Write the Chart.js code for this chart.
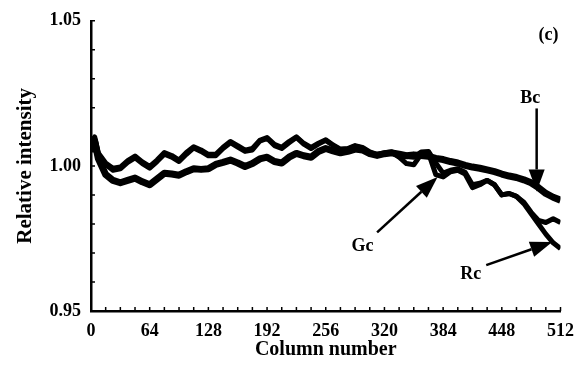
<!DOCTYPE html>
<html>
<head>
<meta charset="utf-8">
<script src="https://cdn.jsdelivr.net/npm/chart.js@4.4.1/dist/chart.umd.min.js"></script>
<style>
  html, body { margin: 0; padding: 0; background: #fff; }
  #wrap { width: 584px; height: 372px; }
</style>
</head>
<body>
<div id="wrap"><canvas id="myChart" width="584" height="372"></canvas></div>
<script>
const columns = [0, 4, 8, 16, 24, 32, 40, 48, 56, 64, 72, 80, 88, 96, 104, 112, 120, 128,
    136, 144, 152, 160, 168, 176, 184, 192, 200, 208, 216, 224, 232, 240, 248, 256,
    264, 272, 280, 288, 296, 304, 312, 320, 328, 336, 344, 352, 360, 368, 376, 384,
    392, 400, 408, 416, 424, 432, 440, 448, 456, 464, 472, 480, 488, 496, 504, 512];

const bcValues = [1.0048, 1.0085, 1.0025, 0.9970, 0.9950, 0.9942, 0.9950, 0.9958, 0.9945, 0.9935,
    0.9955, 0.9975, 0.9972, 0.9968, 0.9980, 0.9990, 0.9988, 0.9990, 1.0005, 1.0012,
    1.0020, 1.0010, 0.9998, 1.0008, 1.0024, 1.0030, 1.0015, 1.0010, 1.0030, 1.0043,
    1.0035, 1.0030, 1.0050, 1.0060, 1.0052, 1.0045, 1.0050, 1.0058, 1.0055, 1.0042,
    1.0036, 1.0042, 1.0045, 1.0040, 1.0035, 1.0038, 1.0036, 1.0033, 1.0026, 1.0022,
    1.0015, 1.0010, 1.0002, 0.9996, 0.9992, 0.9986, 0.9980, 0.9972, 0.9965, 0.9960,
    0.9952, 0.9942, 0.9925, 0.9905, 0.9892, 0.9882];

const gcValues = [1.0055, 1.0095, 1.0040, 1.0005, 0.9985, 0.9990, 1.0012, 1.0028, 1.0008, 0.9992,
    1.0015, 1.0040, 1.0030, 1.0015, 1.0040, 1.0062, 1.0050, 1.0035, 1.0035, 1.0060,
    1.0080, 1.0065, 1.0050, 1.0055, 1.0085, 1.0095, 1.0070, 1.0060, 1.0080, 1.0098,
    1.0075, 1.0060, 1.0075, 1.0088, 1.0070, 1.0055, 1.0058, 1.0068, 1.0062, 1.0045,
    1.0036, 1.0042, 1.0046, 1.0030, 1.0008, 1.0004, 1.0040, 1.0045, 0.9970, 0.9962,
    0.9980, 0.9985, 0.9972, 0.9925, 0.9935, 0.9950, 0.9935, 0.9900, 0.9905, 0.9895,
    0.9875, 0.9840, 0.9812, 0.9805, 0.9818, 0.9805];

const rcValues = [1.0060, 1.0100, 1.0045, 1.0010, 0.9992, 0.9996, 1.0018, 1.0034, 1.0014, 0.9998,
    1.0020, 1.0046, 1.0036, 1.0020, 1.0046, 1.0066, 1.0055, 1.0040, 1.0040, 1.0064,
    1.0084, 1.0070, 1.0054, 1.0060, 1.0088, 1.0098, 1.0074, 1.0064, 1.0084, 1.0100,
    1.0078, 1.0064, 1.0078, 1.0090, 1.0072, 1.0058, 1.0060, 1.0070, 1.0064, 1.0048,
    1.0040, 1.0045, 1.0048, 1.0040, 1.0032, 1.0030, 1.0048, 1.0050, 1.0010, 0.9975,
    0.9985, 0.9990, 0.9978, 0.9935, 0.9940, 0.9950, 0.9935, 0.9900, 0.9905, 0.9895,
    0.9870, 0.9835, 0.9800, 0.9765, 0.9735, 0.9715];

const xTickLabels = [0, 64, 128, 192, 256, 320, 384, 448, 512];
const yTickLabels = [0.95, 1.00, 1.05];

// labels and arrows, in data units: [column, intensity]
const notes = [
    { text: '(c)', at: [499, 1.0449] },
    { text: 'Bc', at: [479, 1.0232], from: [486, 1.0198], to: [486, 0.9912] },
    { text: 'Gc', at: [296, 0.9722], from: [312, 0.9771], to: [378, 0.9962] },
    { text: 'Rc', at: [414, 0.9627], from: [431, 0.9658], to: [503, 0.9738] }
];

const serif = 'Liberation Serif, Times New Roman, serif';

function toPoints(values) {
    return columns.map(function (c, i) { return { x: c, y: values[i] }; });
}

// small inward ticks + arrows + panel labels
const annotatePlugin = {
    id: 'annotate',
    afterDatasetsDraw: function (chart) {
        const ctx = chart.ctx;
        const xs = chart.scales.x;
        const ys = chart.scales.y;
        ctx.save();
        ctx.strokeStyle = '#000';
        ctx.lineWidth = 1.5;
        ctx.beginPath();
        for (let c = 0; c <= 512; c += 16) {
            const px = xs.getPixelForValue(c);
            ctx.moveTo(px, ys.bottom);
            ctx.lineTo(px, ys.bottom - 4);
        }
        for (let k = 95; k <= 105; k++) {
            const py = ys.getPixelForValue(k / 100);
            ctx.moveTo(xs.left, py);
            ctx.lineTo(xs.left + 4, py);
        }
        ctx.stroke();

        ctx.fillStyle = '#000';
        ctx.font = 'bold 18px ' + serif;
        ctx.textAlign = 'center';
        ctx.textBaseline = 'middle';
        notes.forEach(function (n) {
            ctx.fillText(n.text, xs.getPixelForValue(n.at[0]), ys.getPixelForValue(n.at[1]));
            if (!n.from) return;
            const x1 = xs.getPixelForValue(n.from[0]), y1 = ys.getPixelForValue(n.from[1]);
            const x2 = xs.getPixelForValue(n.to[0]), y2 = ys.getPixelForValue(n.to[1]);
            const ang = Math.atan2(y2 - y1, x2 - x1);
            const headLen = 22, headW = 8;
            const bx = x2 - headLen * Math.cos(ang), by = y2 - headLen * Math.sin(ang);
            ctx.lineWidth = 2.5;
            ctx.beginPath();
            ctx.moveTo(x1, y1);
            ctx.lineTo(bx, by);
            ctx.stroke();
            ctx.beginPath();
            ctx.moveTo(x2, y2);
            ctx.lineTo(bx + headW * Math.sin(ang), by - headW * Math.cos(ang));
            ctx.lineTo(bx - headW * Math.sin(ang), by + headW * Math.cos(ang));
            ctx.closePath();
            ctx.fill();
        });
        ctx.restore();
    }
};

const ctx = document.getElementById('myChart');

new Chart(ctx, {
    type: 'line',
    data: {
        datasets: [
            { label: 'Bc', data: toPoints(bcValues), borderColor: '#000', borderWidth: 7 },
            { label: 'Gc', data: toPoints(gcValues), borderColor: '#000', borderWidth: 5 },
            { label: 'Rc', data: toPoints(rcValues), borderColor: '#000', borderWidth: 5 },
            { label: 'Gc inner', data: toPoints(gcValues), borderColor: '#fff', borderWidth: 1.2, borderDash: [1, 3] },
            { label: 'Rc inner', data: toPoints(rcValues), borderColor: '#fff', borderWidth: 1.2, borderDash: [1, 4] }
        ]
    },
    options: {
        responsive: false,
        animation: false,
        layout: { padding: { left: 0, right: 16, top: 20, bottom: 0 } },
        elements: { point: { radius: 0 }, line: { tension: 0, borderJoinStyle: 'round' } },
        plugins: { legend: { display: false }, tooltip: { enabled: false } },
        scales: {
            x: {
                type: 'linear',
                min: 0,
                max: 512,
                afterFit: function (s) { s.height = 61; },
                border: { display: true, color: '#000', width: 2.5 },
                grid: { display: false, drawTicks: false },
                ticks: {
                    stepSize: 64,
                    padding: 10,
                    color: '#000',
                    font: { family: serif, size: 18, weight: 'bold' },
                    callback: function (v) { return xTickLabels.indexOf(v) >= 0 ? String(v) : ''; }
                },
                title: {
                    display: true,
                    text: 'Column number',
                    color: '#000',
                    padding: { top: 0, bottom: 10 },
                    font: { family: serif, size: 20, weight: 'bold' }
                }
            },
            y: {
                min: 0.95,
                max: 1.05,
                afterFit: function (s) { s.width = 91; },
                border: { display: true, color: '#000', width: 2.5 },
                grid: { display: false, drawTicks: false },
                ticks: {
                    stepSize: 0.05,
                    padding: 10,
                    color: '#000',
                    font: { family: serif, size: 18, weight: 'bold' },
                    callback: function (v) {
                        const hit = yTickLabels.find(function (t) { return Math.abs(t - v) < 1e-6; });
                        return hit !== undefined ? hit.toFixed(2) : '';
                    }
                },
                title: {
                    display: true,
                    text: 'Relative intensity',
                    color: '#000',
                    padding: { top: 13, bottom: 0 },
                    font: { family: serif, size: 21, weight: 'bold' }
                }
            }
        }
    },
    plugins: [annotatePlugin]
});
</script>
</body>
</html>
